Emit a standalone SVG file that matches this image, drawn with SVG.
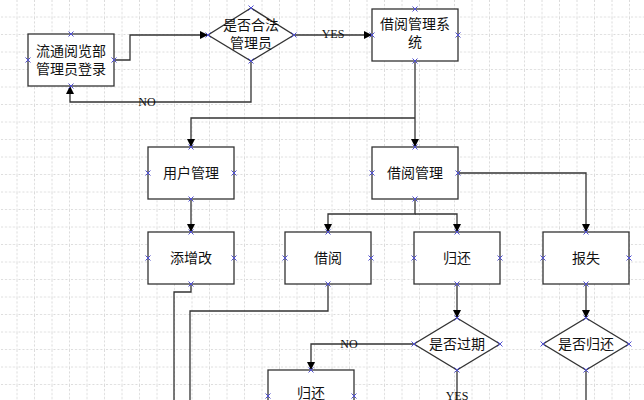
<svg xmlns="http://www.w3.org/2000/svg" width="644" height="400" viewBox="0 0 644 400">
<defs>
<pattern id="g" width="17.5" height="17.5" patternUnits="userSpaceOnUse"><path d="M17.5 0V17.5H0" fill="none" stroke="#b8b8b8" stroke-width="1" stroke-dasharray="2,2"/></pattern>
<marker id="a" markerWidth="8" markerHeight="8" refX="7" refY="4" orient="auto" markerUnits="userSpaceOnUse"><path d="M0,0L8,4L0,8Z" fill="#000"/></marker>
<symbol id="x" overflow="visible"><path d="M-2.5,-2.5L2.5,2.5M-2.5,2.5L2.5,-2.5" stroke="#5050d0" stroke-width="1"/></symbol>
</defs>
<style>
.n{fill:#fff;stroke:#333;stroke-width:1.3}
.t{font-family:"Noto Sans CJK SC","Liberation Serif",serif;font-size:14px;fill:#111;text-anchor:middle}
.l{font-family:"Liberation Serif",serif;font-size:12px;fill:#111;text-anchor:middle}
.c path{fill:none;stroke:#333;stroke-width:1.3}
</style>
<rect width="644" height="400" fill="#fff"/>
<rect width="644" height="400" fill="url(#g)"/>
<g class="c" id="connectors">
<path d="M114,60H130V35H207" marker-end="url(#a)"/>
<path d="M294,35H371" marker-end="url(#a)"/>
<path d="M251,61V102H70V87" marker-end="url(#a)"/>
<path d="M415,61V146" marker-end="url(#a)"/>
<path d="M415,118H191V146" marker-end="url(#a)"/>
<path d="M191,199V231" marker-end="url(#a)"/>
<path d="M415,199V214H328V231" marker-end="url(#a)"/>
<path d="M415,214H457V231" marker-end="url(#a)"/>
<path d="M458,173H586V231" marker-end="url(#a)"/>
<path d="M457,284V317" marker-end="url(#a)"/>
<path d="M586,284V317" marker-end="url(#a)"/>
<path d="M414,344H311V369" marker-end="url(#a)"/>
<path d="M457,370V400"/>
<path d="M586,370V400"/>
<path d="M191,284V292H174V400"/>
<path d="M328,284V311H190V400"/>
<text class="l" x="333" y="38">YES</text>
<text class="l" x="147" y="106">NO</text>
<text class="l" x="349" y="348">NO</text>
<text class="l" x="457" y="400">YES</text>
</g>
<g id="login"><rect class="n" x="28" y="34" width="86" height="52"/><text class="t" x="71" y="56">流通阅览部</text><text class="t" x="71" y="74">管理员登录</text></g>
<g id="d1"><path class="n" d="M251,8L294,35L251,61L208,35Z"/><text class="t" x="251" y="30">是否合法</text><text class="t" x="251" y="48">管理员</text></g>
<g id="sys"><rect class="n" x="372" y="9" width="86" height="52"/><text class="t" x="415" y="29">借阅管理系</text><text class="t" x="415" y="47">统</text></g>
<g id="user"><rect class="n" x="148" y="147" width="86" height="52"/><text class="t" x="191" y="178">用户管理</text></g>
<g id="bm"><rect class="n" x="372" y="147" width="86" height="52"/><text class="t" x="415" y="178">借阅管理</text></g>
<g id="add"><rect class="n" x="148" y="232" width="86" height="52"/><text class="t" x="191" y="263">添增改</text></g>
<g id="borrow"><rect class="n" x="285" y="232" width="86" height="52"/><text class="t" x="328" y="263">借阅</text></g>
<g id="ret"><rect class="n" x="414" y="232" width="86" height="52"/><text class="t" x="457" y="263">归还</text></g>
<g id="lost"><rect class="n" x="543" y="232" width="86" height="52"/><text class="t" x="586" y="263">报失</text></g>
<g id="d2"><path class="n" d="M457,318L500,344L457,370L414,344Z"/><text class="t" x="457" y="349">是否过期</text></g>
<g id="d3"><path class="n" d="M586,318L629,344L586,370L543,344Z"/><text class="t" x="586" y="349">是否归还</text></g>
<g id="ret2"><rect class="n" x="268" y="370" width="86" height="52"/><text class="t" x="311" y="398">归还</text></g>
<g id="markers">
<use href="#x" x="71" y="34"/><use href="#x" x="28" y="60"/><use href="#x" x="114" y="60"/><use href="#x" x="71" y="86"/>
<use href="#x" x="251" y="8"/><use href="#x" x="208" y="35"/><use href="#x" x="294" y="35"/><use href="#x" x="251" y="61"/>
<use href="#x" x="415" y="9"/><use href="#x" x="372" y="35"/><use href="#x" x="458" y="35"/><use href="#x" x="415" y="61"/>
<use href="#x" x="191" y="147"/><use href="#x" x="148" y="173"/><use href="#x" x="234" y="173"/><use href="#x" x="191" y="199"/>
<use href="#x" x="415" y="147"/><use href="#x" x="372" y="173"/><use href="#x" x="458" y="173"/><use href="#x" x="415" y="199"/>
<use href="#x" x="191" y="232"/><use href="#x" x="148" y="258"/><use href="#x" x="234" y="258"/><use href="#x" x="191" y="284"/>
<use href="#x" x="328" y="232"/><use href="#x" x="285" y="258"/><use href="#x" x="371" y="258"/><use href="#x" x="328" y="284"/>
<use href="#x" x="457" y="232"/><use href="#x" x="414" y="258"/><use href="#x" x="500" y="258"/><use href="#x" x="457" y="284"/>
<use href="#x" x="586" y="232"/><use href="#x" x="543" y="258"/><use href="#x" x="629" y="258"/><use href="#x" x="586" y="284"/>
<use href="#x" x="457" y="318"/><use href="#x" x="414" y="344"/><use href="#x" x="500" y="344"/><use href="#x" x="457" y="370"/>
<use href="#x" x="586" y="318"/><use href="#x" x="543" y="344"/><use href="#x" x="629" y="344"/><use href="#x" x="586" y="370"/>
<use href="#x" x="311" y="370"/><use href="#x" x="268" y="396"/><use href="#x" x="354" y="396"/>
</g>
</svg>
